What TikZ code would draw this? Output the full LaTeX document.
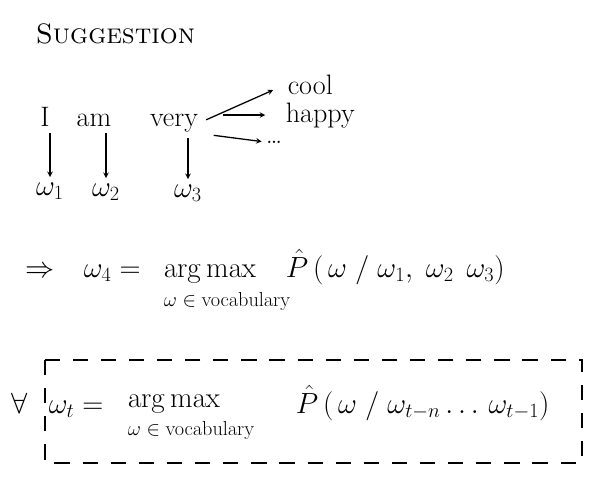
\documentclass[tikz,border=0pt]{standalone}
\usepackage{amsmath,amssymb}
\usetikzlibrary{calc}
\begin{document}
\begin{tikzpicture}[x=0.03cm, y=-0.03cm, line width=1.1pt,
  big/.style={font=\fontsize{24}{28}\selectfont, inner sep=1pt},
  small/.style={font=\fontsize{17}{20}\selectfont, inner sep=1pt},
  arr/.style={->, >=stealth}]
  \useasboundingbox (0,0) rectangle (600,479);
  % titre
  \node[big, anchor=base west] (title) at (34,44) {\textsc{Suggestion}};
  % la phrase et les suites possibles
  \node[big, anchor=base] (I) at (45,126) {I};
  \node[big, anchor=base] (am) at (94,126) {am};
  \node[big, anchor=base] (very) at (174,126) {very};
  \node[big, anchor=base west] (cool) at (286,94) {cool};
  \node[big, anchor=base west] (happy) at (284,122) {happy};
  \node[big, anchor=base west] (dots) at (264,143) {\dots};
  \draw[arr, shorten <=6pt, shorten >=12pt] (very.east) -- (cool.west);
  \draw[arr, shorten <=20pt, shorten >=16pt] (very.east |- happy.west) -- (happy.west);
  \draw[arr, shorten <=12pt, shorten >=2pt] (very.south east) -- (dots.west);
  % les mots w1 w2 w3
  \node[big, anchor=base] (w1) at (50,195) {$\omega_1$};
  \node[big, anchor=base] (w2) at (106,196) {$\omega_2$};
  \node[big, anchor=base] (w3) at (188,197) {$\omega_3$};
  \draw[arr, shorten <=4pt, shorten >=3pt] (w1.north |- I.south) -- (w1.north);
  \draw[arr, shorten <=4pt, shorten >=3pt] (w2.north |- am.south) -- (w2.north);
  \draw[arr, shorten <=4pt, shorten >=3pt] (w3.north |- very.south) -- (w3.north);
  % prediction de w4
  \node[big, anchor=base] (impl) at (40,277) {$\Rightarrow$};
  \node[big, anchor=base west] (lhsa) at (82,277) {$\omega_4 =$};
  \node[big, anchor=base west] (amaxa) at (162,277) {$\mathrm{arg\,max}$};
  \node[small, anchor=base west] (suba) at (162,306) {$\omega \in \mathrm{vocabulary}$};
  \node[big, anchor=base west] (proba) at (284,277)
    {$\hat{P}\,(\,\omega\;/\;\omega_1,\;\omega_2\;\,\omega_3)$};
  % cas general
  \node[big, anchor=base] (forall) at (20,413) {$\forall$};
  \node[big, anchor=base west] (lhsb) at (47,413) {$\omega_t =$};
  \node[big, anchor=base west] (amaxb) at (126,407) {$\mathrm{arg\,max}$};
  \node[small, anchor=base west] (subb) at (126,435) {$\omega \in \mathrm{vocabulary}$};
  \node[big, anchor=base west] (probb) at (294,413)
    {$\hat{P}\,(\,\omega\;/\;\omega_{t-n}\ldots\,\omega_{t-1})$};
  \draw[line width=0.9pt, dash pattern=on 13pt off 11pt] (45,360) rectangle (582,463);
\end{tikzpicture}
\end{document}
